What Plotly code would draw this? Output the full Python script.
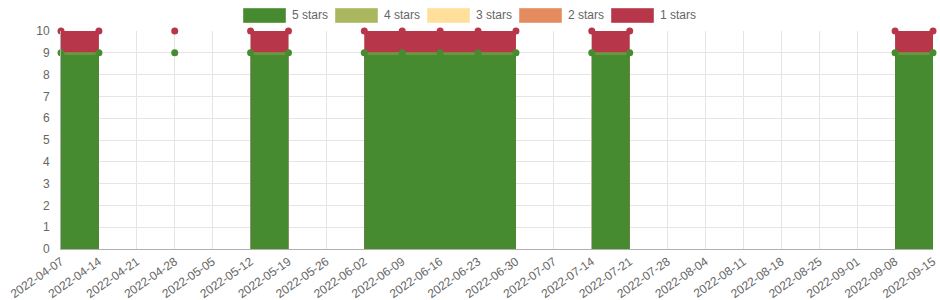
import plotly.graph_objects as go
import numpy as np
from datetime import date, timedelta

# ---- data ----
tick_dates = [(date(2022, 4, 7) + timedelta(days=7 * i)).isoformat() for i in range(24)]
dates = ["2022-04-07", "2022-04-14", "2022-04-21", "2022-04-28", "2022-05-05", "2022-05-12",
         "2022-05-19", "2022-05-26", "2022-06-02", "2022-06-09", "2022-06-16", "2022-06-23",
         "2022-06-30", "2022-07-07", "2022-07-14", "2022-07-21", "2022-07-28", "2022-08-04",
         "2022-08-11", "2022-08-18", "2022-08-25", "2022-09-01", "2022-09-08", "2022-09-15"]
N = None
stars5 = [9, 9, N, 9, N, 9, 9, N, 9, 9, 9, 9, 9, N, 9, 9, N, N, N, N, N, N, 9, 9]
stars4 = [0, 0, N, 0, N, 0, 0, N, 0, 0, 0, 0, 0, N, 0, 0, N, N, N, N, N, N, 0, 0]
stars3 = [0, 0, N, 0, N, 0, 0, N, 0, 0, 0, 0, 0, N, 0, 0, N, N, N, N, N, N, 0, 0]
stars2 = [0, 0, N, 0, N, 0, 0, N, 0, 0, 0, 0, 0, N, 0, 0, N, N, N, N, N, N, 0, 0]
stars1 = [1, 1, N, 1, N, 1, 1, N, 1, 1, 1, 1, 1, N, 1, 1, N, N, N, N, N, N, 1, 1]
series_names = ["5 stars", "4 stars", "3 stars", "2 stars", "1 stars"]
colors = ["#468b2f", "#abb75e", "#ffdf9a", "#e58b60", "#b8364a"]


def arr(v):
    return np.array([np.nan if x is None else x for x in v], dtype=float)


s5, s4, s3, s2, s1 = map(arr, [stars5, stars4, stars3, stars2, stars1])
c5 = s5
c4 = c5 + s4
c3 = c4 + s3
c2 = c3 + s2
c1 = c2 + s1


def segments(a):
    segs, cur = [], []
    for i, v in enumerate(a):
        if np.isnan(v):
            if cur:
                segs.append(cur)
            cur = []
        else:
            cur.append(i)
    if cur:
        segs.append(cur)
    return segs


def clean(a):
    return [None if np.isnan(x) else float(x) for x in a]


fig = go.Figure()
for seg in segments(c5):
    if len(seg) < 2:
        continue
    xs = [dates[i] for i in seg]
    fig.add_trace(go.Scatter(x=xs, y=[c1[i] for i in seg], mode="lines", fill="tozeroy",
                             line=dict(color=colors[4], width=1), fillcolor=colors[4],
                             showlegend=False, hoverinfo="skip"))
    fig.add_trace(go.Scatter(x=xs, y=[c5[i] for i in seg], mode="lines", fill="tozeroy",
                             line=dict(color="#7f9a45", width=1), fillcolor=colors[0],
                             showlegend=False, hoverinfo="skip"))
    fig.add_trace(go.Scatter(x=xs, y=[c4[i] - 0.06 for i in seg], mode="lines",
                             line=dict(color=colors[1], width=1), opacity=0.55,
                             showlegend=False, hoverinfo="skip"))

# markers
fig.add_trace(go.Scatter(x=dates, y=clean(c5), mode="markers", cliponaxis=False,
                         marker=dict(color=colors[0], size=7), showlegend=False, hoverinfo="skip"))
fig.add_trace(go.Scatter(x=dates, y=clean(c1), mode="markers", cliponaxis=False,
                         marker=dict(color=colors[4], size=7), showlegend=False, hoverinfo="skip"))

# ---- custom legend ----
L, T, W, H = 61, 31, 872, 218


def px_x(p):
    return (p - L) / W


def px_y(p):
    return (T + H - p) / H


shapes = []
annotations = []
x0 = 243
for i, (nm, col) in enumerate(zip(series_names, colors)):
    bx = x0 + 92 * i
    shapes.append(dict(type="rect", xref="paper", yref="paper",
                       x0=px_x(bx), x1=px_x(bx + 43), y0=px_y(23), y1=px_y(8),
                       fillcolor=col, line=dict(color="rgba(255,255,255,0.4)", width=1)))
    annotations.append(dict(xref="paper", yref="paper", x=px_x(bx + 47), y=px_y(15.5),
                            text=nm, showarrow=False, xanchor="left", yanchor="middle",
                            font=dict(size=12, color="#666")))

fig.update_layout(
    width=940, height=300,
    margin=dict(l=L, r=940 - L - W, t=T, b=300 - T - H),
    paper_bgcolor="white", plot_bgcolor="white",
    font=dict(family="Liberation Sans, Arial, sans-serif", size=12, color="#666"),
    shapes=shapes, annotations=annotations,
    xaxis=dict(type="date", range=[dates[0], dates[-1]], tickvals=tick_dates, ticktext=tick_dates,
               tickangle=-35, showgrid=True, gridcolor="#e5e5e5", gridwidth=1,
               showline=True, linecolor="#b0b0b0", linewidth=1, zeroline=False,
               ticks="", tickfont=dict(size=12, color="#666"), automargin=False),
    yaxis=dict(range=[0, 10], dtick=1, showgrid=True, gridcolor="#e5e5e5", gridwidth=1,
               showline=True, linecolor="#b0b0b0", linewidth=1, zeroline=False,
               ticks="outside", ticklen=8, tickcolor="rgba(0,0,0,0)",
               tickfont=dict(size=12, color="#666"), automargin=False),
)

fig.write_html("out.html")
